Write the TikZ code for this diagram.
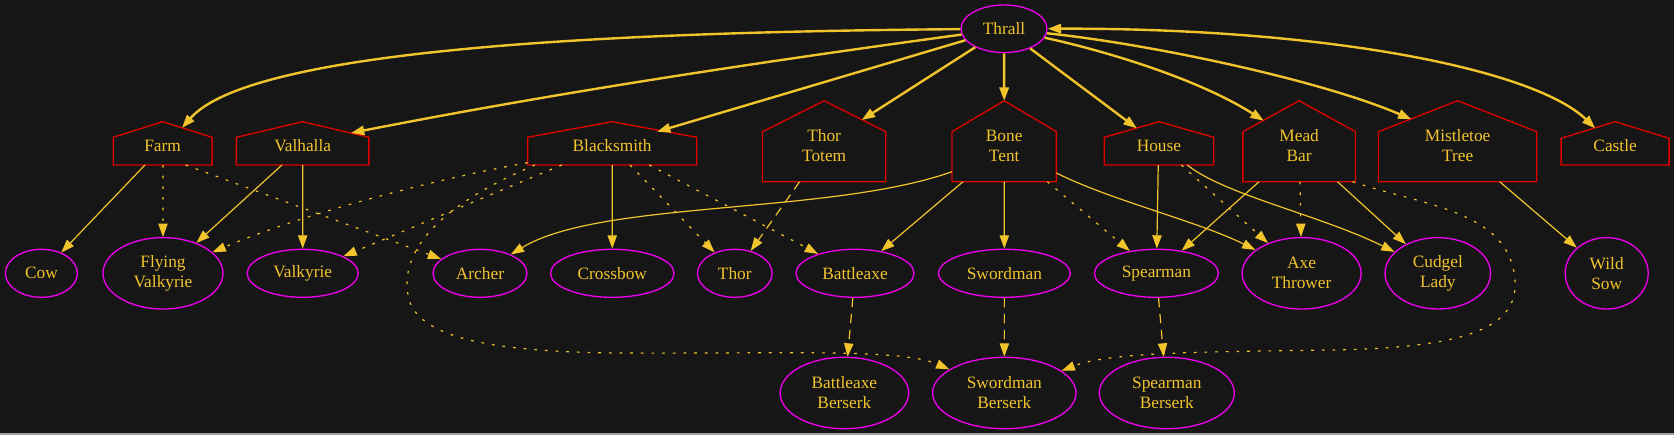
\documentclass[tikz,border=0pt]{standalone}
\usepackage{fontspec}
\setmainfont{Liberation Serif}
\usetikzlibrary{arrows.meta,shapes.geometric}
\definecolor{bg}{HTML}{161616}
\definecolor{gold}{HTML}{F2C42C}
\definecolor{hred}{HTML}{DD0000}
\definecolor{mag}{HTML}{EE00EE}
\definecolor{stripc}{HTML}{A0A0A0}
\newcommand\mkhouse[7]{%
  \draw[hline] (#2,#6) -- (#2,#5) -- ({(#2+#3)/2},#4) -- (#3,#5) -- (#3,#6) -- cycle;
  \node[htxt] (#1) at ({(#2+#3)/2},145.7) {#7};
}
\begin{document}
\begin{tikzpicture}[x=0.75pt,y=-0.75pt,
  lbl/.style={text=gold,font=\fontsize{13}{15}\selectfont,align=center,inner sep=0pt},
  ell/.style 2 args={ellipse,draw=mag,line width=1pt,minimum width=#1pt,minimum height=#2pt,lbl},
  hline/.style={draw=hred,line width=1pt},
  htxt/.style={lbl},
  e/.style={draw=gold,line width=0.9pt,-{Triangle[length=10pt,width=7pt]}},
  eb/.style={e,line width=1.8pt},
  dot/.style={e,dash pattern=on 2pt off 6pt},
  dsh/.style={e,dash pattern=on 7pt off 5pt}]
\fill[bg] (0,0) rectangle (1674,435);
\useasboundingbox (0,0) rectangle (1674,435);
\fill[stripc] (0,433.3) rectangle (1674,435);

% ellipse nodes
\node[ell={64.5}{35.7}] (thrall) at (1004,28.8) {Thrall};
\node[ell={54}{36}] (cow) at (41.4,273.3) {Cow};
\node[ell={90}{53.55}] (fv) at (163,273.3) {Flying\\Valkyrie};
\node[ell={83.25}{36}] (valkyrie) at (302.7,273.3) {Valkyrie};
\node[ell={70.5}{36}] (archer) at (480,273.3) {Archer};
\node[ell={92.7}{36}] (crossbow) at (612.3,273.3) {Crossbow};
\node[ell={56}{36}] (thor) at (734.8,273.3) {Thor};
\node[ell={88.5}{36}] (battleaxe) at (855,273.3) {Battleaxe};
\node[ell={98.7}{36}] (swordman) at (1004.4,273.3) {Swordman};
\node[ell={93}{36}] (spearman) at (1156.4,273.3) {Spearman};
\node[ell={89.25}{53.55}] (axe) at (1301.6,273.3) {Axe\\Thrower};
\node[ell={79.2}{53.55}] (cudgel) at (1437.8,273.3) {Cudgel\\Lady};
\node[ell={62.25}{53.55}] (wildsow) at (1606.7,273.3) {Wild\\Sow};
\node[ell={96.45}{53.55}] (bb) at (844.4,393) {Battleaxe\\Berserk};
\node[ell={107.55}{53.55}] (sb) at (1004.3,393) {Swordman\\Berserk};
\node[ell={101.25}{53.55}] (spb) at (1166.8,393) {Spearman\\Berserk};

% house nodes
\mkhouse{farm}{113.2}{212.1}{121.7}{137.3}{165}{Farm}
\mkhouse{valhalla}{236.4}{368.9}{121.7}{137.3}{165}{Valhalla}
\mkhouse{blacksmith}{527.6}{696.7}{121.7}{137.3}{165}{Blacksmith}
\mkhouse{thortotem}{762.5}{885.8}{100.7}{131.7}{181.7}{Thor\\Totem}
\mkhouse{bonetent}{952}{1056.4}{100.7}{131.7}{181.7}{Bone\\Tent}
\mkhouse{house}{1104.2}{1213.7}{121.7}{137.3}{165}{House}
\mkhouse{meadbar}{1242.9}{1355.4}{100.7}{131.7}{181.7}{Mead\\Bar}
\mkhouse{mistletoe}{1378.5}{1536.8}{100.7}{131.7}{181.7}{Mistletoe\\Tree}
\mkhouse{castle}{1561.1}{1669.1}{121.7}{138.3}{165}{Castle}

% Thrall edges
\draw[eb] (thrall) .. controls (600,32) and (250,50) .. ([shift={(19.3,-17.7)}]farm.center);
\draw[eb] (thrall) .. controls (760,62) and (560,92) .. ([shift={(48.3,-12.7)}]valhalla.center);
\draw[eb] (thrall) -- ([shift={(44.9,-14)}]blacksmith.center);
\draw[eb] (thrall) -- ([shift={(37.5,-25.7)}]thortotem.center);
\draw[eb] (thrall) -- ([shift={(0,-45)}]bonetent.center);
\draw[eb] (thrall) -- ([shift={(-22.2,-17.4)}]house.center);
\draw[eb] (thrall) .. controls (1110,52) and (1200,80) .. ([shift={(-35.4,-25)}]meadbar.center);
\draw[eb] (thrall) .. controls (1150,44) and (1320,80) .. ([shift={(-46.2,-26.4)}]mistletoe.center);
\draw[eb,{Triangle[length=10pt,width=7pt]}-{Triangle[length=10pt,width=7pt]}] (thrall) .. controls (1330,28) and (1535,70) .. ([shift={(-19.9,-17.4)}]castle.center);

% Farm
\draw[e] ([shift={(-17.7,19.3)}]farm.center) -- (cow);
\draw[dot] ([shift={(0.3,19.3)}]farm.center) -- (fv);
\draw[dot] ([shift={(23,19.3)}]farm.center) -- (archer);
% Valhalla
\draw[e] ([shift={(-20.7,19.3)}]valhalla.center) -- (fv);
\draw[e] ([shift={(0,19.3)}]valhalla.center) -- (valkyrie);
% Blacksmith
\draw[dot] ([shift={(-84.4,17)}]blacksmith.center) .. controls (430,180) and (300,215) .. (fv);
\draw[dot] ([shift={(-50.4,19.3)}]blacksmith.center) -- (valkyrie);
\draw[dot] ([shift={(-77.15,19.3)}]blacksmith.center) .. controls (440,205) and (400,250) .. (408,295)
   .. controls (415,340) and (500,352) .. (620,353) .. controls (780,354) and (900,348) .. (sb);
\draw[e] ([shift={(0,19.3)}]blacksmith.center) -- (crossbow);
\draw[dot] ([shift={(17.9,19.3)}]blacksmith.center) -- (thor);
\draw[dot] ([shift={(37.1,19.3)}]blacksmith.center) -- (battleaxe);
% Thor Totem
\draw[dsh] ([shift={(-24.5,36)}]thortotem.center) -- (thor);
% Bone Tent
\draw[e] ([shift={(-52.2,26)}]bonetent.center) .. controls (830,215) and (600,200) .. (archer);
\draw[e] ([shift={(-41.2,36)}]bonetent.center) -- (battleaxe);
\draw[e] ([shift={(0,36)}]bonetent.center) -- (swordman);
\draw[dot] ([shift={(43.1,36)}]bonetent.center) -- (spearman);
\draw[e] ([shift={(52.2,27.3)}]bonetent.center) .. controls (1110,200) and (1200,222) .. (axe);
% House
\draw[e] ([shift={(-0.7,19.3)}]house.center) -- (spearman);
\draw[dot] ([shift={(22.3,19.3)}]house.center) -- (axe);
\draw[e] ([shift={(28.3,19.3)}]house.center) .. controls (1225,195) and (1320,215) .. (cudgel);
% Mead Bar
\draw[e] ([shift={(-40.1,36)}]meadbar.center) -- (spearman);
\draw[dot] ([shift={(0.9,36)}]meadbar.center) -- (axe);
\draw[e] ([shift={(38.3,36)}]meadbar.center) -- (cudgel);
\draw[dot] ([shift={(53.4,36)}]meadbar.center) .. controls (1420,205) and (1510,210) .. (1515,280)
   .. controls (1519,330) and (1460,348) .. (1330,350) .. controls (1200,352) and (1110,352) .. (sb);
% Mistletoe
\draw[e] ([shift={(42,36)}]mistletoe.center) -- (wildsow);
% berserks
\draw[dsh] (spearman) -- (spb);
\draw[dsh] (battleaxe) -- (bb);
\draw[dsh] (swordman) -- (sb);
\end{tikzpicture}
\end{document}
